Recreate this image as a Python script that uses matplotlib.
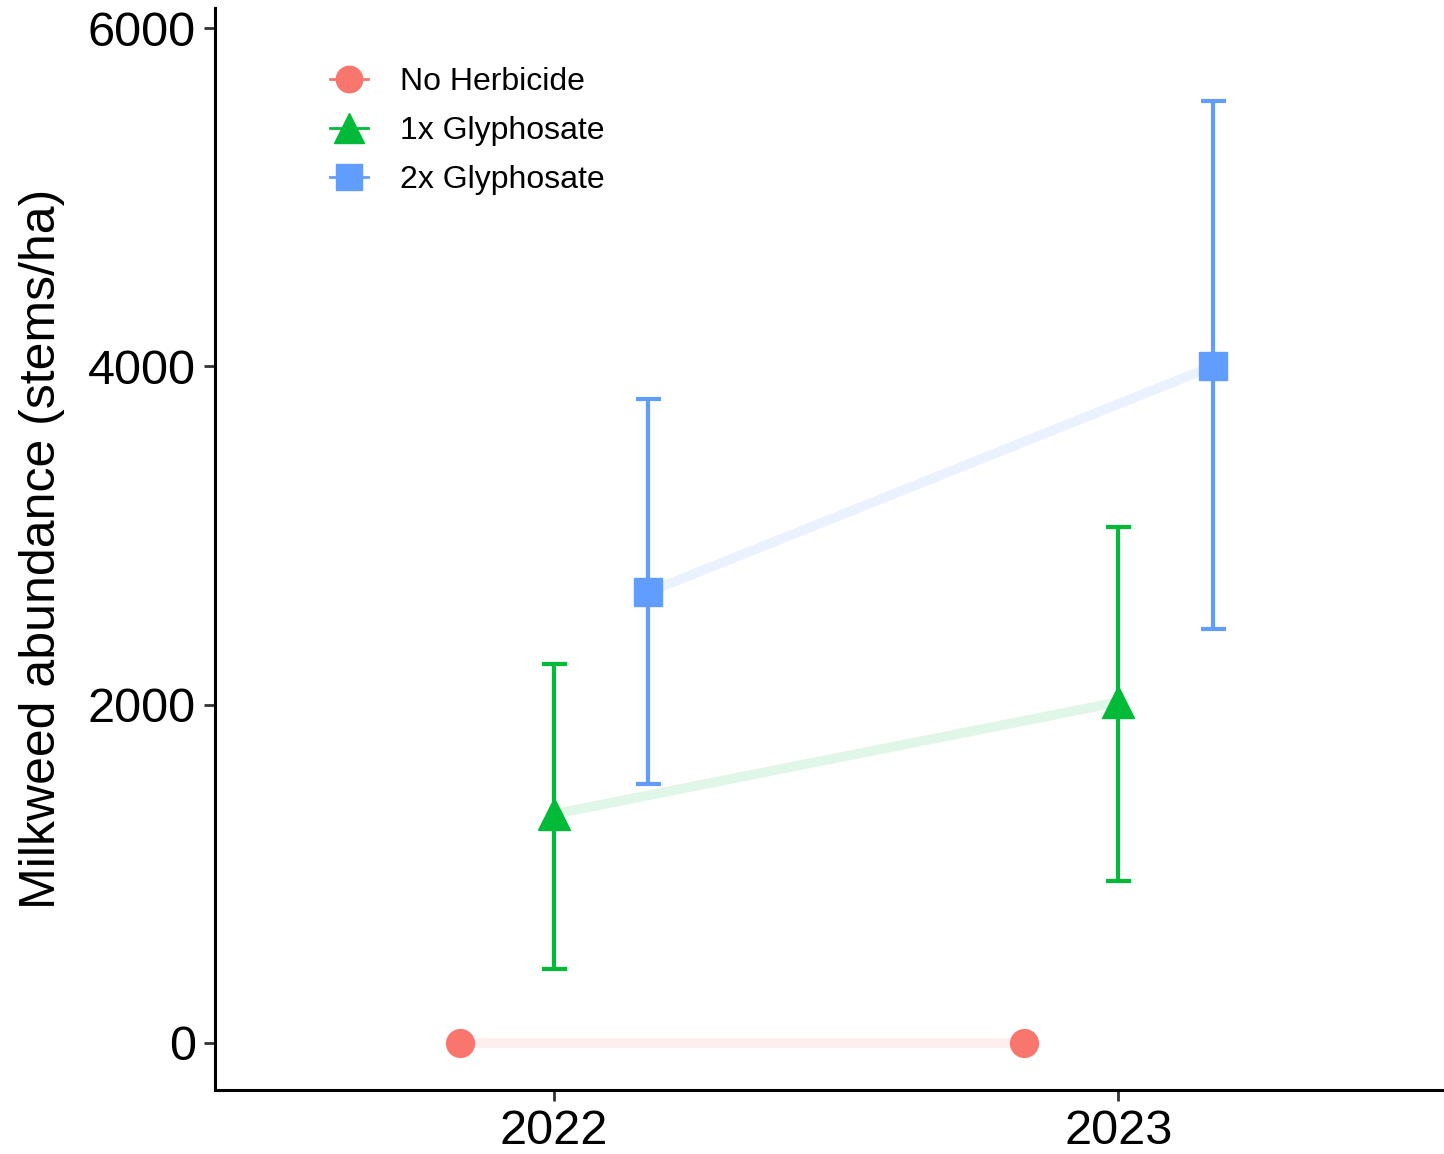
import numpy as np
import matplotlib.pyplot as plt

plt.rcParams['font.family'] = ['Liberation Sans', 'DejaVu Sans']

years = ["2022", "2023"]
treatments = ["No Herbicide", "1x Glyphosate", "2x Glyphosate"]
colors = ["#F8766D", "#00BA38", "#619CFF"]
markers = ["o", "^", "s"]

# mean milkweed stems per hectare, with lower / upper interval bounds
means = {
    "No Herbicide": [0, 0],
    "1x Glyphosate": [1353, 2015],
    "2x Glyphosate": [2665, 4000],
}
lower = {
    "No Herbicide": [0, 0],
    "1x Glyphosate": [437, 957],
    "2x Glyphosate": [1530, 2446],
}
upper = {
    "No Herbicide": [0, 0],
    "1x Glyphosate": [2239, 3049],
    "2x Glyphosate": [3805, 5566],
}

dodge = [-0.167, 0.0, 0.167]
msizes = [20, 23, 20]

fig = plt.figure(figsize=(14.44, 11.54), dpi=100)
ax = fig.add_axes([0.149, 0.0555, 0.851, 0.9375])

x = np.arange(len(years))
for i, t in enumerate(treatments):
    xs = x + dodge[i]
    m = np.array(means[t])
    lo = m - np.array(lower[t])
    hi = np.array(upper[t]) - m
    ax.plot(xs, m, color=colors[i], lw=7, alpha=0.12, solid_capstyle="butt", zorder=1)
    if t != "No Herbicide":
        ax.errorbar(xs, m, yerr=[lo, hi], fmt="none", ecolor=colors[i],
                    elinewidth=3, capsize=9, capthick=3, zorder=2)
    ax.plot(xs, m, ls="none", marker=markers[i], ms=msizes[i], color=colors[i],
            mec=colors[i], zorder=3)
    # legend entry: line through marker
    ax.plot([], [], color=colors[i], lw=2, marker=markers[i], ms=msizes[i] - 1,
            label=t)

ax.set_xlim(-0.6, 1.577)
ax.set_ylim(-278, 6118)
ax.set_xticks(x)
ax.set_xticklabels(years)
ax.set_yticks([0, 2000, 4000, 6000])
ax.tick_params(labelsize=35, width=2, length=8, color="#333333", pad=6)
ax.set_ylabel("Milkweed abundance (stems/ha)", fontsize=36, labelpad=16)

for side in ["top", "right"]:
    ax.spines[side].set_visible(False)
for side in ["left", "bottom"]:
    ax.spines[side].set_linewidth(2.2)

ax.legend(loc="upper left", bbox_to_anchor=(0.07, 0.972), frameon=False,
          fontsize=23, handlelength=1.2, handletextpad=1.0, labelspacing=0.6)

fig.savefig("out.png", dpi=100)
